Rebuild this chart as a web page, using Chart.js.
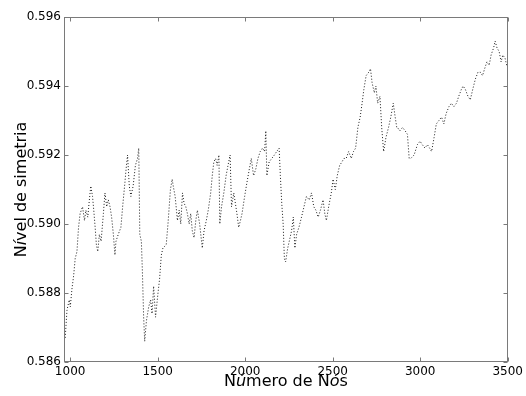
<!DOCTYPE html>
<html>
<head>
<meta charset="utf-8">
<script src="https://cdn.jsdelivr.net/npm/chart.js@4"></script>
<style>
html, body { margin: 0; padding: 0; background: #fff; }
#wrap { width: 526px; height: 396px; }
</style>
</head>
<body>
<div id="wrap"><canvas id="chart"></canvas></div>
<script>
// values
const nodes = [972, 982, 995, 1001, 1010, 1020, 1029, 1039, 1048, 1057, 1071, 1082, 1090, 1101, 1108, 1118, 1128, 1135, 1143, 1150,
    1158, 1167, 1177, 1190, 1199, 1209, 1218, 1228, 1237, 1247, 1256, 1262, 1275, 1290, 1300, 1313, 1318, 1328, 1338, 1347,
    1360, 1373, 1385, 1392, 1398, 1407, 1413, 1420, 1426, 1436, 1449, 1460, 1468, 1477, 1488, 1502, 1511, 1521, 1530, 1549,
    1559, 1573, 1583,
    1589, 1600, 1613, 1623, 1632, 1642, 1651, 1661, 1670, 1680, 1689, 1698, 1708, 1718, 1727, 1740, 1755, 1765, 1778, 1789,
    1803, 1812, 1821, 1831, 1840, 1850, 1855, 1865, 1878, 1891, 1902, 1914, 1922, 1935, 1944, 1953, 1963, 1973, 1982, 1997,
    2010, 2024, 2035, 2048, 2061, 2073, 2086, 2099, 2111, 2118, 2124, 2137, 2152, 2167, 2180, 2194, 2201, 2209, 2217, 2224,
    2231, 2243,
    2252, 2265, 2275, 2284, 2294, 2307, 2322, 2336, 2350, 2366, 2379, 2392, 2404, 2417, 2430, 2445, 2455, 2464, 2477, 2492,
    2502, 2515, 2526, 2540, 2553, 2564, 2577, 2591, 2606, 2619, 2631, 2644, 2657, 2668, 2678, 2691, 2706, 2716, 2725, 2738,
    2747, 2757, 2770, 2780, 2791, 2804, 2819, 2832, 2846, 2857, 2866,
    2870, 2883, 2899, 2914, 2927, 2937, 2946, 2965, 2984, 2999, 3012, 3027, 3041, 3054, 3065, 3079, 3092, 3107, 3122, 3135,
    3148, 3164, 3178, 3192, 3207, 3220, 3235, 3245, 3258, 3273, 3286, 3300, 3315, 3330, 3343, 3356, 3368, 3381, 3394, 3405,
    3419, 3428, 3439, 3451, 3462, 3472, 3485, 3494]
const symmetry = [0.5867, 0.5875, 0.5878, 0.5876, 0.5881, 0.5885, 0.5890, 0.5892, 0.5899, 0.5903, 0.5905, 0.5901, 0.5904, 0.5902, 0.5906, 0.5911, 0.5908, 0.5904, 0.5899, 0.5894,
    0.5892, 0.5897, 0.5895, 0.5903, 0.5909, 0.5905, 0.5907, 0.5905, 0.5902, 0.5897, 0.5891, 0.5895, 0.5897, 0.5899, 0.5905, 0.5912, 0.5915, 0.5920, 0.5911, 0.5908,
    0.5911, 0.5917, 0.5919, 0.5922, 0.5897, 0.5895, 0.5886, 0.5873, 0.5866, 0.5872, 0.5876, 0.5878, 0.5874, 0.5882, 0.5873, 0.5880, 0.5884, 0.5891, 0.5893, 0.5894,
    0.5900, 0.5910, 0.5913,
    0.5911, 0.5908, 0.5901, 0.5904, 0.5900, 0.5909, 0.5906, 0.5905, 0.5903, 0.5900, 0.5903, 0.5898, 0.5896, 0.5901, 0.5904, 0.5900, 0.5893, 0.5898, 0.5901, 0.5904,
    0.5909, 0.5914, 0.5918, 0.5919, 0.5917, 0.5920, 0.5900, 0.5905, 0.5909, 0.5914, 0.5917, 0.5920, 0.5905, 0.5909, 0.5906, 0.5903, 0.5899, 0.5901, 0.5903, 0.5908,
    0.5912, 0.5916, 0.5919, 0.5914, 0.5916, 0.5919, 0.5921, 0.5922, 0.5921, 0.5927, 0.5914, 0.5918, 0.5919, 0.5920, 0.5921, 0.5922, 0.5914, 0.5906, 0.5900, 0.5890,
    0.5889, 0.5893,
    0.5895, 0.5898, 0.5902, 0.5893, 0.5897, 0.5899, 0.5902, 0.5905, 0.5908, 0.5907, 0.5909, 0.5905, 0.5904, 0.5902, 0.5904, 0.5907, 0.5903, 0.5901, 0.5905, 0.5909,
    0.5913, 0.5910, 0.5914, 0.5917, 0.5918, 0.5919, 0.5919, 0.5921, 0.5919, 0.5921, 0.5922, 0.5928, 0.5931, 0.5935, 0.5939, 0.5943, 0.5944, 0.5945, 0.5941, 0.5938,
    0.5940, 0.5935, 0.5937, 0.5928, 0.5921, 0.5925, 0.5928, 0.5931, 0.5935, 0.5931, 0.5928,
    0.5928, 0.5927, 0.5928, 0.5927, 0.5926, 0.5919, 0.5919, 0.5920, 0.5923, 0.5924, 0.5923, 0.5922, 0.5923, 0.5922, 0.5921, 0.5925, 0.5929, 0.5930, 0.5931, 0.5929,
    0.5932, 0.5934, 0.5935, 0.5934, 0.5935, 0.5937, 0.5939, 0.5940, 0.5939, 0.5937, 0.5936, 0.5939, 0.5942, 0.5944, 0.5944, 0.5943, 0.5945, 0.5947, 0.5946, 0.5949,
    0.5951, 0.5953, 0.5951, 0.5950, 0.5947, 0.5949, 0.5948, 0.5946]

const xTicks = [1000, 1500, 2000, 2500, 3000, 3500]
const yTicks = [0.586, 0.588, 0.590, 0.592, 0.594, 0.596]

// title pieces: [text, italic]
const xTitle = [["N", false], ["ú", true], ["mero de N", false], ["ó", true], ["s", false]]
const yTitle = [["N", false], ["í", true], ["vel de simetria", false]]

const FONT = "'DejaVu Sans', sans-serif"

function drawPieces(ctx, pieces, size) {
    const fonts = pieces.map(p => (p[1] ? "oblique " : "") + size + "px " + FONT)
    let total = 0
    const widths = pieces.map((p, i) => { ctx.font = fonts[i]; const w = ctx.measureText(p[0]).width; total += w; return w })
    let pos = -total / 2
    pieces.forEach((p, i) => {
        ctx.font = fonts[i]
        ctx.fillText(p[0], pos, 0)
        pos += widths[i]
    })
}

const frame = {
    id: "frame",
    afterDraw(chart) {
        const { ctx, chartArea: a, scales: { x, y } } = chart
        const l = Math.round(a.left) + 0.5, r = Math.round(a.right) - 0.5
        const t = Math.round(a.top) + 0.5, b = Math.round(a.bottom) - 0.5
        ctx.save()
        ctx.strokeStyle = "#7a7a7a"
        ctx.lineWidth = 1
        ctx.strokeRect(l, t, r - l, b - t)
        ctx.beginPath()
        xTicks.forEach(v => {
            const px = Math.round(x.getPixelForValue(v)) + 0.5
            ctx.moveTo(px, b); ctx.lineTo(px, b - 4)
            ctx.moveTo(px, t); ctx.lineTo(px, t + 4)
        })
        yTicks.forEach(v => {
            const py = Math.round(y.getPixelForValue(v)) + 0.5
            ctx.moveTo(l, py); ctx.lineTo(l + 4, py)
            ctx.moveTo(r, py); ctx.lineTo(r - 4, py)
        })
        ctx.stroke()

        ctx.fillStyle = "#000"
        ctx.textBaseline = "alphabetic"
        ctx.textAlign = "left"
        ctx.save()
        ctx.translate((a.left + a.right) / 2, 386)
        drawPieces(ctx, xTitle, 16)
        ctx.restore()
        ctx.save()
        ctx.translate(26, (a.top + a.bottom) / 2)
        ctx.rotate(-Math.PI / 2)
        drawPieces(ctx, yTitle, 16)
        ctx.restore()
        ctx.restore()
    }
}

let ctx = document.getElementById("chart").getContext("2d")
new Chart(ctx, {
    type: "line",
    data: {
        datasets: [
            {
                data: nodes.map((n, i) => ({ x: n, y: symmetry[i] })),
                borderColor: "#1a1a1a",
                borderWidth: 1,
                borderDash: [1, 2],
                pointRadius: 0,
                tension: 0,
                fill: false,
            },
        ],
    },
    options: {
        responsive: true,
        maintainAspectRatio: false,
        animation: false,
        layout: { padding: { left: 0, top: 17, right: 15, bottom: 0 } },
        plugins: { legend: { display: false }, tooltip: { enabled: false } },
        scales: {
            x: {
                type: "linear",
                min: 965,
                max: 3500,
                afterBuildTicks: s => { s.ticks = xTicks.map(v => ({ value: v })) },
                afterFit: s => { s.height = 34 },
                grid: { display: false, drawTicks: false },
                border: { display: false },
                ticks: { color: "#000", padding: 3, font: { family: FONT, size: 12 }, callback: v => String(v) },
            },
            y: {
                min: 0.586,
                max: 0.596,
                afterBuildTicks: s => { s.ticks = yTicks.map(v => ({ value: v })) },
                afterFit: s => { s.width = 64 },
                grid: { display: false, drawTicks: false },
                border: { display: false },
                ticks: { color: "#000", padding: 3, font: { family: FONT, size: 12 }, callback: v => v.toFixed(3) },
            },
        },
    },
    plugins: [frame],
})
</script>
</body>
</html>
